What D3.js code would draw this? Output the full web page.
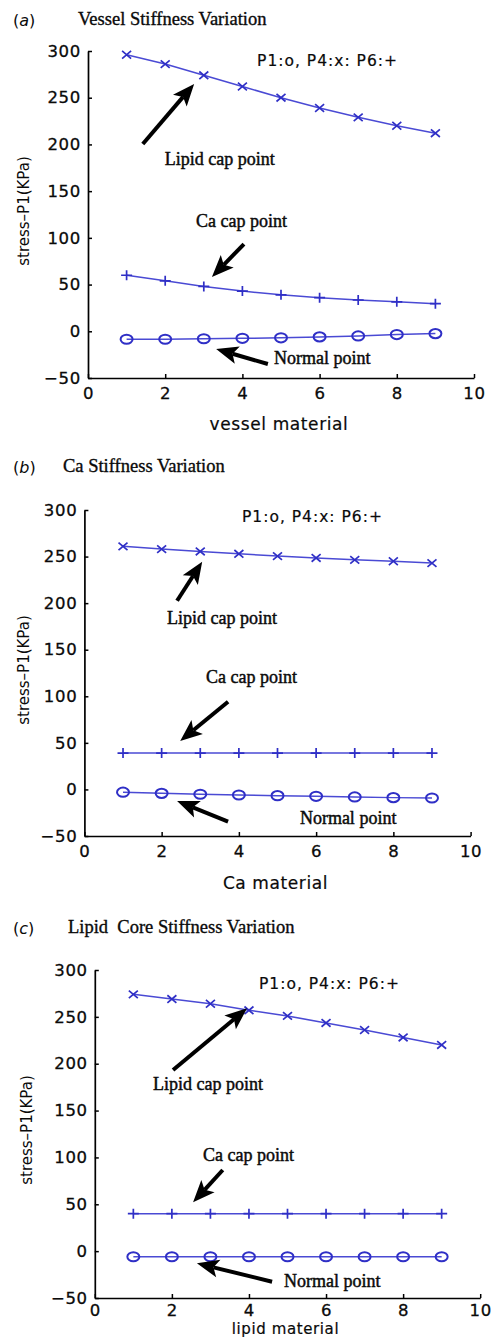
<!DOCTYPE html>
<html>
<head>
<meta charset="utf-8">
<script src="https://cdn.jsdelivr.net/npm/d3@7/dist/d3.min.js"></script>
<style>
  html, body { margin: 0; padding: 0; background: #fff; }
  svg { display: block; }
</style>
</head>
<body>
<svg id="fig" width="494" height="1339"></svg>
<script>
// Material index along the x axis (1..9)
const materialIndex = [1, 2, 3, 4, 5, 6, 7, 8, 9];

// (a) vessel stiffness variation: stress at P1 (normal), P4 (lipid cap), P6 (Ca cap)
const vesselP1 = [-8.5, -8.5, -8, -7.5, -7, -6, -5, -3.5, -2.5];
const vesselP4 = [296, 286, 274, 262, 250, 239, 229, 220, 212];
const vesselP6 = [60, 54, 48, 43, 39, 36, 33.5, 31.5, 29.5];

// (b) Ca stiffness variation
const caP1 = [-3, -4.2, -5.2, -6, -6.7, -7.4, -8.1, -8.8, -9.2];
const caP4 = [261, 258, 255.5, 253, 250.5, 248.5, 246.5, 245, 243];
const caP6 = [39, 39, 39, 39, 39, 39, 39, 39, 39];

// (c) lipid core stiffness variation
const lipidP1 = [-6, -6, -6, -6, -6, -6, -6, -6, -6];
const lipidP4 = [274, 269, 264, 257, 251, 243.5, 236, 228, 220];
const lipidP6 = [40, 40, 40, 40, 40, 40, 40, 40, 40];

// Tick values
const xTicks = [0, 2, 4, 6, 8, 10];
const yTicks = [-50, 0, 50, 100, 150, 200, 250, 300];

// Panel text
const panelLetters = ["a", "b", "c"];
const panelTitles = ["Vessel Stiffness Variation", "Ca Stiffness Variation", "Lipid  Core Stiffness Variation"];
const xTitles = ["vessel material", "Ca material", "lipid material"];
const yTitle = "stress\u2013P1(KPa)";
const legendText = "P1:o, P4:x: P6:+";

// Annotation anchors in data units: [x, stress]
const lipidArrows = [[[1.42, 200.5], [2.75, 264.7]], [[2.40, 202.6], [3.05, 244.5]], [[2.03, 193.3], [3.95, 259.1]]];
const caArrows = [[[4.04, 93.4], [3.21, 58.1]], [[3.72, 94.2], [2.48, 52]], [[3.32, 86.6], [2.55, 52.1]]];
const normalArrows = [[[4.66, -35], [3.32, -19]], [[3.72, -34.6], [2.40, -12.4]], [[4.60, -32.6], [2.65, -13]]];
const lipidLabelPos = [[1.99, 178], [2.14, 177.6], [1.51, 172]];
const caLabelPos = [[2.80, 111.6], [3.15, 114.3], [2.81, 96.2]];
const normalLabelPos = [[4.82, -35], [5.58, -37.1], [4.91, -38.3]];
const legendPos = [[4.38, 284], [4.08, 287], [4.26, 280]];

// Panel layout (pixels)
const layout = [
  { left: 88,   right: 474,   top: 51,  bottom: 378,  titleX: 78, titleY: 25,  xPad: 9, xTitleY: 430,  xTitleSize: 17, yTitleX: 24, yTitleY: 211 },
  { left: 84.4, right: 470.6, top: 510, bottom: 836,  titleX: 63, titleY: 472, xPad: 9, xTitleY: 889,  xTitleSize: 17, yTitleX: 24, yTitleY: 670 },
  { left: 94.8, right: 480.2, top: 970, bottom: 1298, titleX: 68, titleY: 933, xPad: 6, xTitleY: 1334, xTitleSize: 15, yTitleX: 27, yTitleY: 1130 }
];

const seriesSets = [
  { p1: vesselP1, p4: vesselP4, p6: vesselP6 },
  { p1: caP1, p4: caP4, p6: caP6 },
  { p1: lipidP1, p4: lipidP4, p6: lipidP6 }
];

const BLUE_LINE = "#4a4ad4";
const BLUE_MARK = "#2f2fc6";
const INK = "#0a0a0a";
const SANS = "'DejaVu Sans', 'Liberation Sans', sans-serif";
const SERIF = "'Liberation Serif', 'Times New Roman', serif";

const svg = d3.select("#fig");
svg.append("rect").attr("width", 494).attr("height", 1339).attr("fill", "#fff");

function arrow(g, x0, y0, x1, y1) {
  // Thick shaft with a filled, slightly swept-back head at (x1, y1)
  const dx = x1 - x0, dy = y1 - y0;
  const len = Math.hypot(dx, dy);
  const ux = dx / len, uy = dy / len;
  const px = -uy, py = ux;
  const headLen = 22, headW = 9, notch = 5;
  const bx = x1 - ux * headLen, by = y1 - uy * headLen;
  g.append("line")
    .attr("x1", x0).attr("y1", y0)
    .attr("x2", bx + ux * notch).attr("y2", by + uy * notch)
    .attr("stroke", "#000").attr("stroke-width", 4).attr("stroke-linecap", "butt");
  const pts = [
    [x1, y1],
    [bx + px * headW, by + py * headW],
    [bx + ux * notch, by + uy * notch],
    [bx - px * headW, by - py * headW]
  ];
  g.append("path").attr("d", "M" + pts.map(p => p.join(",")).join("L") + "Z").attr("fill", "#000");
}

layout.forEach((L, i) => {
  const g = svg.append("g");
  const x = d3.scaleLinear().domain([0, 10]).range([L.left, L.right]);
  const y = d3.scaleLinear().domain([-50, 300]).range([L.bottom, L.top]);
  const S = seriesSets[i];

  // Panel label and title
  const t = g.append("text").attr("x", 13).attr("y", L.titleY + 1)
    .attr("font-family", SANS).attr("font-size", 16).attr("fill", INK);
  t.append("tspan").text("(");
  t.append("tspan").attr("font-style", "italic").text(panelLetters[i]);
  t.append("tspan").text(")");
  g.append("text").attr("x", L.titleX).attr("y", L.titleY)
    .attr("font-family", SERIF).attr("font-size", 18.5).attr("fill", INK)
    .attr("stroke", INK).attr("stroke-width", 0.35)
    .style("white-space", "pre")
    .text(panelTitles[i]);

  // Axes (left and bottom only, ticks pointing inward)
  const xAxis = d3.axisBottom(x).tickValues(xTicks).tickSizeInner(-4).tickSizeOuter(0).tickPadding(L.xPad);
  const yAxis = d3.axisLeft(y).tickValues(yTicks).tickSizeInner(-4).tickSizeOuter(0).tickPadding(7);
  const gx = g.append("g").attr("transform", `translate(0,${L.bottom})`).call(xAxis);
  const gy = g.append("g").attr("transform", `translate(${L.left},0)`).call(yAxis);
  [gx, gy].forEach(ax => {
    ax.select(".domain").attr("stroke", "#000").attr("stroke-width", 1.7);
    ax.selectAll(".tick line").attr("stroke", "#000").attr("stroke-width", 1.5);
    ax.selectAll(".tick text").attr("font-family", SANS).attr("font-size", 16.5)
      .attr("fill", INK).attr("stroke", INK).attr("stroke-width", 0.3).attr("letter-spacing", 0.7);
  });

  // Axis titles
  g.append("text").attr("x", (L.left + L.right) / 2 - 2).attr("y", L.xTitleY)
    .attr("text-anchor", "middle").attr("font-family", SANS).attr("font-size", L.xTitleSize)
    .attr("letter-spacing", 0.6).attr("fill", INK).attr("stroke", INK).attr("stroke-width", 0.2)
    .text(xTitles[i]);
  g.append("text").attr("transform", `translate(${L.yTitleX},${L.yTitleY}) rotate(-90)`)
    .attr("text-anchor", "middle").attr("dy", "0.35em")
    .attr("font-family", SANS).attr("font-size", 15).attr("fill", INK).text(yTitle);

  // Series lines
  const line = d3.line().x((d, k) => x(materialIndex[k])).y(d => y(d));
  [S.p4, S.p6, S.p1].forEach(vals => {
    g.append("path").datum(vals).attr("d", line)
      .attr("fill", "none").attr("stroke", BLUE_LINE).attr("stroke-width", 1.5);
  });

  // P4 markers: x
  g.append("g").selectAll("path").data(S.p4).join("path")
    .attr("d", (d, k) => {
      const cx = x(materialIndex[k]), cy = y(d);
      return `M${cx - 4.5},${cy - 3.8}L${cx + 4.5},${cy + 3.8}M${cx - 4.5},${cy + 3.8}L${cx + 4.5},${cy - 3.8}`;
    })
    .attr("stroke", BLUE_MARK).attr("stroke-width", 1.7).attr("fill", "none");

  // P6 markers: +
  g.append("g").selectAll("path").data(S.p6).join("path")
    .attr("d", (d, k) => {
      const cx = x(materialIndex[k]), cy = y(d);
      return `M${cx - 5.5},${cy}L${cx + 5.5},${cy}M${cx},${cy - 5}L${cx},${cy + 5}`;
    })
    .attr("stroke", BLUE_MARK).attr("stroke-width", 1.7).attr("fill", "none");

  // P1 markers: o
  g.append("g").selectAll("ellipse").data(S.p1).join("ellipse")
    .attr("cx", (d, k) => x(materialIndex[k])).attr("cy", d => y(d))
    .attr("rx", 6).attr("ry", 4.6)
    .attr("stroke", BLUE_MARK).attr("stroke-width", 2).attr("fill", "none");

  // Legend note
  g.append("text").attr("x", x(legendPos[i][0])).attr("y", y(legendPos[i][1]))
    .attr("font-family", SANS).attr("font-size", 15.5).attr("letter-spacing", 1.0)
    .attr("fill", INK).attr("stroke", INK).attr("stroke-width", 0.2).text(legendText);

  // Annotations
  const serifLabel = (pos, txt) => g.append("text")
    .attr("x", x(pos[0])).attr("y", y(pos[1]))
    .attr("font-family", SERIF).attr("font-size", 18).attr("fill", INK)
    .attr("stroke", INK).attr("stroke-width", 0.45).text(txt);
  serifLabel(lipidLabelPos[i], "Lipid cap point");
  serifLabel(caLabelPos[i], "Ca cap point");
  serifLabel(normalLabelPos[i], "Normal point");

  [lipidArrows[i], caArrows[i], normalArrows[i]].forEach(a => {
    arrow(g, x(a[0][0]), y(a[0][1]), x(a[1][0]), y(a[1][1]));
  });
});
</script>
</body>
</html>
